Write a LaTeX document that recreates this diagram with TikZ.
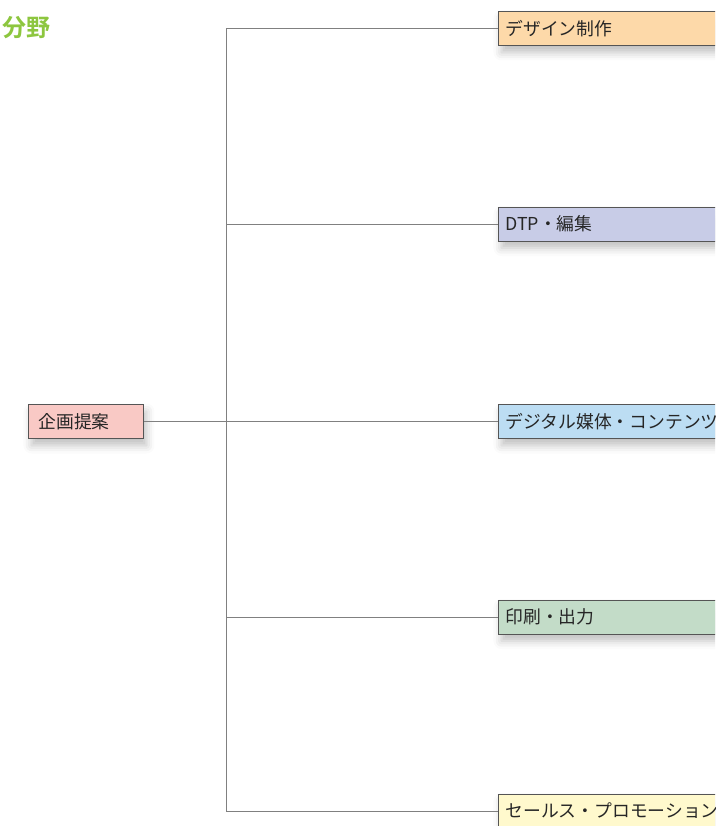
\documentclass[tikz,border=0pt]{standalone}
\usepackage{fontspec}
\setmainfont{Noto Sans CJK JP}
\newfontfamily\titlefont{Noto Sans CJK JP Bold}
\usetikzlibrary{shadows.blur}
\definecolor{cOrange}{HTML}{FDD9A9}
\definecolor{cLav}{HTML}{C8CCE7}
\definecolor{cBlue}{HTML}{BCDDF3}
\definecolor{cGreen}{HTML}{C3DCC8}
\definecolor{cYellow}{HTML}{FFF9CD}
\definecolor{cPink}{HTML}{F9C9C5}
\definecolor{cTitle}{HTML}{8DC63F}
\definecolor{cLine}{HTML}{808080}
\definecolor{cBorder}{HTML}{555555}
\tikzset{
  x=1pt, y=1pt,
  catbox/.style={draw=cBorder, line width=0.9pt, minimum height=34pt,
    inner ysep=0pt, inner xsep=7pt, anchor=west, text width=290pt, align=left,
    font=\fontsize{17.8}{20}\selectfont, text=black!85,
    blur shadow={shadow xshift=3pt, shadow yshift=-7pt, shadow blur radius=8pt, shadow opacity=25}},
  rootbox/.style={catbox, text width=95pt, inner xsep=10pt},
  conn/.style={draw=cLine, line width=0.9pt},
}
\begin{document}
\begin{tikzpicture}
\useasboundingbox (0,0) rectangle (715,-826);
\clip (0,0) rectangle (715,-826);
\node[anchor=west, inner sep=0pt, text=cTitle, font=\titlefont\fontsize{24}{26}\selectfont] (title) at (2,-28) {分野};
\node[rootbox, fill=cPink] (root) at (28,-421.5) {企画提案};
\node[catbox, fill=cOrange] (c1) at (498,-28.5) {デザイン制作};
\node[catbox, fill=cLav] (c2) at (498,-224) {DTP・編集};
\node[catbox, fill=cBlue] (c3) at (498,-421.5) {デジタル媒体・コンテンツ};
\node[catbox, fill=cGreen] (c4) at (498,-617) {印刷・出力};
\node[catbox, fill=cYellow] (c5) at (498,-811) {セールス・プロモーション};
\coordinate (j) at (226,-421.5);
\draw[conn] (j |- c1.west) -- (j |- c5.west);
\draw[conn] (root.east) -- (c3.west);
\draw[conn] (j |- c1.west) -- (c1.west);
\draw[conn] (j |- c2.west) -- (c2.west);
\draw[conn] (j |- c4.west) -- (c4.west);
\draw[conn] (j |- c5.west) -- (c5.west);
\end{tikzpicture}
\end{document}
